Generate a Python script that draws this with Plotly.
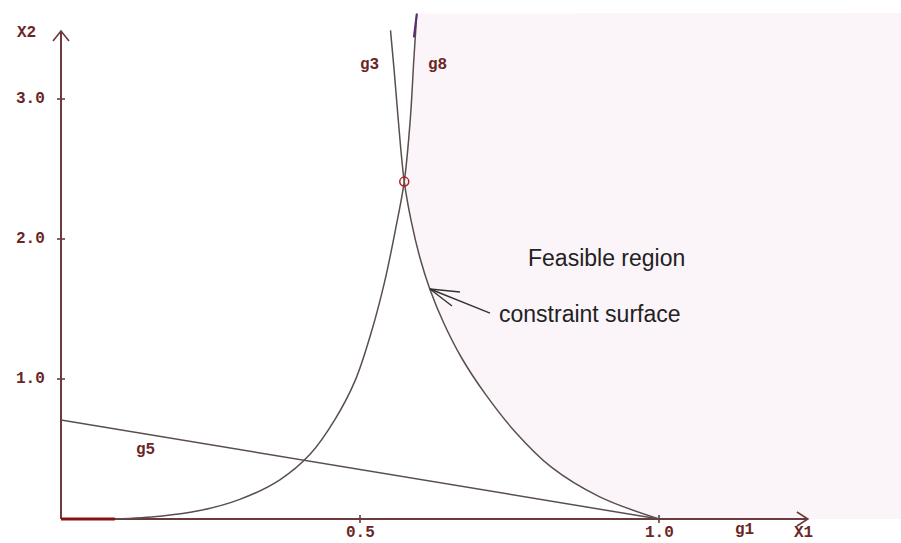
import plotly.graph_objects as go

# ---- data (x1, x2) ----
# curve rising from lower-left, ends at top right (g8 side)
curveA_x1 = [0.090, 0.166, 0.232, 0.299, 0.366, 0.416, 0.458, 0.492, 0.520, 0.542, 0.559, 0.574, 0.584, 0.590, 0.595]
curveA_x2 = [0.00, 0.02, 0.06, 0.14, 0.28, 0.46, 0.71, 0.99, 1.35, 1.71, 2.06, 2.41, 2.85, 3.28, 3.61]
# curve falling from top-left to (1,0) (constraint surface)
curveB_x1 = [0.551, 0.557, 0.564, 0.574, 0.586, 0.600, 0.617, 0.640, 0.670, 0.710, 0.760, 0.820, 0.900, 1.000]
curveB_x2 = [3.49, 3.21, 2.85, 2.41, 2.12, 1.87, 1.64, 1.40, 1.15, 0.89, 0.62, 0.37, 0.16, 0.00]
# g5 straight line
g5_x1 = [0.0, 1.0]
g5_x2 = [0.707, 0.0]
# optimum point
opt_x1 = [0.574]
opt_x2 = [2.41]
# thick red segment on x1 axis
g1seg_x1 = [0.0, 0.090]
g1seg_x2 = [0.0, 0.0]

x_ticks = [0.5, 1.0]
x_tick_labels = ["0.5", "1.0"]
y_ticks = [1.0, 2.0, 3.0]
y_tick_labels = ["1.0", "2.0", "3.0"]

x_axis_end = 1.249
y_axis_end = 3.486
region_top = 3.614

# pixel scale of the reference drawing
PX_X = 598.0   # pixels per unit x1
PX_Y = 140.0   # pixels per unit x2
ORIG_X = 61.0  # window pixel of x1 = 0
ORIG_Y = 519.0 # window pixel of x2 = 0
W, H = 901, 543
x_range = [(0 - ORIG_X) / PX_X, (W - ORIG_X) / PX_X]
y_range = [(ORIG_Y - H) / PX_Y, (ORIG_Y - 0) / PX_Y]

AXIS = "#6b3a3a"
CURVE = "#5a4e4f"
LBL = "#6a2626"
PINK = "#fbf5f9"

fig = go.Figure()

# feasible region (right of the constraint boundary, above x1 axis)
iA = curveA_x2.index(2.41)
iB = curveB_x2.index(2.41)
reg_x = curveA_x1[iA:][::-1] + curveB_x1[iB:] + [x_range[1], x_range[1]]
reg_x2 = curveA_x2[iA:][::-1] + curveB_x2[iB:] + [0.0, region_top]
fig.add_trace(go.Scatter(x=reg_x, y=reg_x2, fill="toself", fillcolor=PINK,
                         line=dict(width=0), mode="lines", hoverinfo="skip"))

dx_px = 1 / PX_X
dy_px = 1 / PX_Y
# axes
fig.add_trace(go.Scatter(x=[0, x_axis_end], y=[0, 0], mode="lines",
                         line=dict(color=AXIS, width=2)))
fig.add_trace(go.Scatter(x=[0, 0], y=[0, y_axis_end], mode="lines",
                         line=dict(color=AXIS, width=2)))
# axis arrowheads (open)
fig.add_trace(go.Scatter(x=[x_axis_end - 11 * dx_px, x_axis_end, x_axis_end - 11 * dx_px],
                         y=[7 * dy_px, 0, -7 * dy_px], mode="lines",
                         line=dict(color=AXIS, width=1.6)))
fig.add_trace(go.Scatter(x=[-8 * dx_px, 0, 8 * dx_px],
                         y=[y_axis_end - 10 * dy_px, y_axis_end, y_axis_end - 10 * dy_px], mode="lines",
                         line=dict(color=AXIS, width=1.6)))
# tick marks
for t in x_ticks:
    fig.add_trace(go.Scatter(x=[t, t], y=[-4 * dy_px, 4 * dy_px], mode="lines",
                             line=dict(color=AXIS, width=1.6)))
for t in y_ticks:
    fig.add_trace(go.Scatter(x=[-4 * dx_px, 4 * dx_px], y=[t, t], mode="lines",
                             line=dict(color=AXIS, width=1.6)))

# constraint curves
fig.add_trace(go.Scatter(x=curveA_x1, y=curveA_x2, mode="lines", line_shape="spline",
                         line=dict(color=CURVE, width=1.5)))
fig.add_trace(go.Scatter(x=curveA_x1[-2:], y=[3.44, curveA_x2[-1]], mode="lines",
                         line=dict(color="#5a2a78", width=2)))
fig.add_trace(go.Scatter(x=curveB_x1, y=curveB_x2, mode="lines", line_shape="spline",
                         line=dict(color=CURVE, width=1.5)))
fig.add_trace(go.Scatter(x=g5_x1, y=g5_x2, mode="lines",
                         line=dict(color=CURVE, width=1.5)))
fig.add_trace(go.Scatter(x=g1seg_x1, y=g1seg_x2, mode="lines",
                         line=dict(color="#8b1010", width=3)))
fig.add_trace(go.Scatter(x=opt_x1, y=opt_x2, mode="markers",
                         marker=dict(symbol="circle-open", size=9, color="#b02020", line=dict(width=1.5))))

# arrow for "constraint surface"
tip = (0.617, 1.643)
tail = (0.7174, 1.471)
fig.add_trace(go.Scatter(x=[tail[0], tip[0]], y=[tail[1], tip[1]], mode="lines",
                         line=dict(color="#333333", width=1.4)))
fig.add_trace(go.Scatter(x=[tip[0] + 30 * dx_px, tip[0], tip[0] + 22 * dx_px],
                         y=[tip[1] - 3 * dy_px, tip[1], tip[1] - 17 * dy_px], mode="lines",
                         line=dict(color="#333333", width=1.4)))

def px2x(px):
    return (px - ORIG_X) / PX_X

def py2y(py):
    return (ORIG_Y - py) / PX_Y

mono = dict(family="Liberation Mono", size=16, color=LBL, weight="bold")
ann = []
for t, s in zip(x_ticks, x_tick_labels):
    ann.append(dict(x=t, y=py2y(533), text=s, showarrow=False, font=mono))
for t, s in zip(y_ticks, y_tick_labels):
    ann.append(dict(x=px2x(30), y=t, text=s, showarrow=False, font=mono))
small = dict(family="Liberation Mono", size=16, color=LBL, weight="bold")
for (px, py, s) in [(26, 33, "X2"), (803, 533, "X1"), (744, 530, "g1"),
                    (369, 65, "g3"), (437, 65, "g8"), (145, 450, "g5")]:
    ann.append(dict(x=px2x(px), y=py2y(py), text=s, showarrow=False, font=small))
sans = dict(family="Liberation Sans", size=23, color="#222222")
ann.append(dict(x=px2x(606), y=py2y(258), text="Feasible region", showarrow=False, font=sans))
ann.append(dict(x=px2x(590), y=py2y(314), text="constraint surface", showarrow=False, font=sans))

fig.update_layout(
    width=W, height=H, margin=dict(l=0, r=0, t=0, b=0),
    paper_bgcolor="white", plot_bgcolor="white", showlegend=False,
    xaxis=dict(range=x_range, visible=False, fixedrange=True),
    yaxis=dict(range=y_range, visible=False, fixedrange=True),
    annotations=ann,
)
fig.write_html("out.html", config={"displayModeBar": False},
               post_script="document.body.style.margin='0px';document.body.style.overflow='hidden';")
